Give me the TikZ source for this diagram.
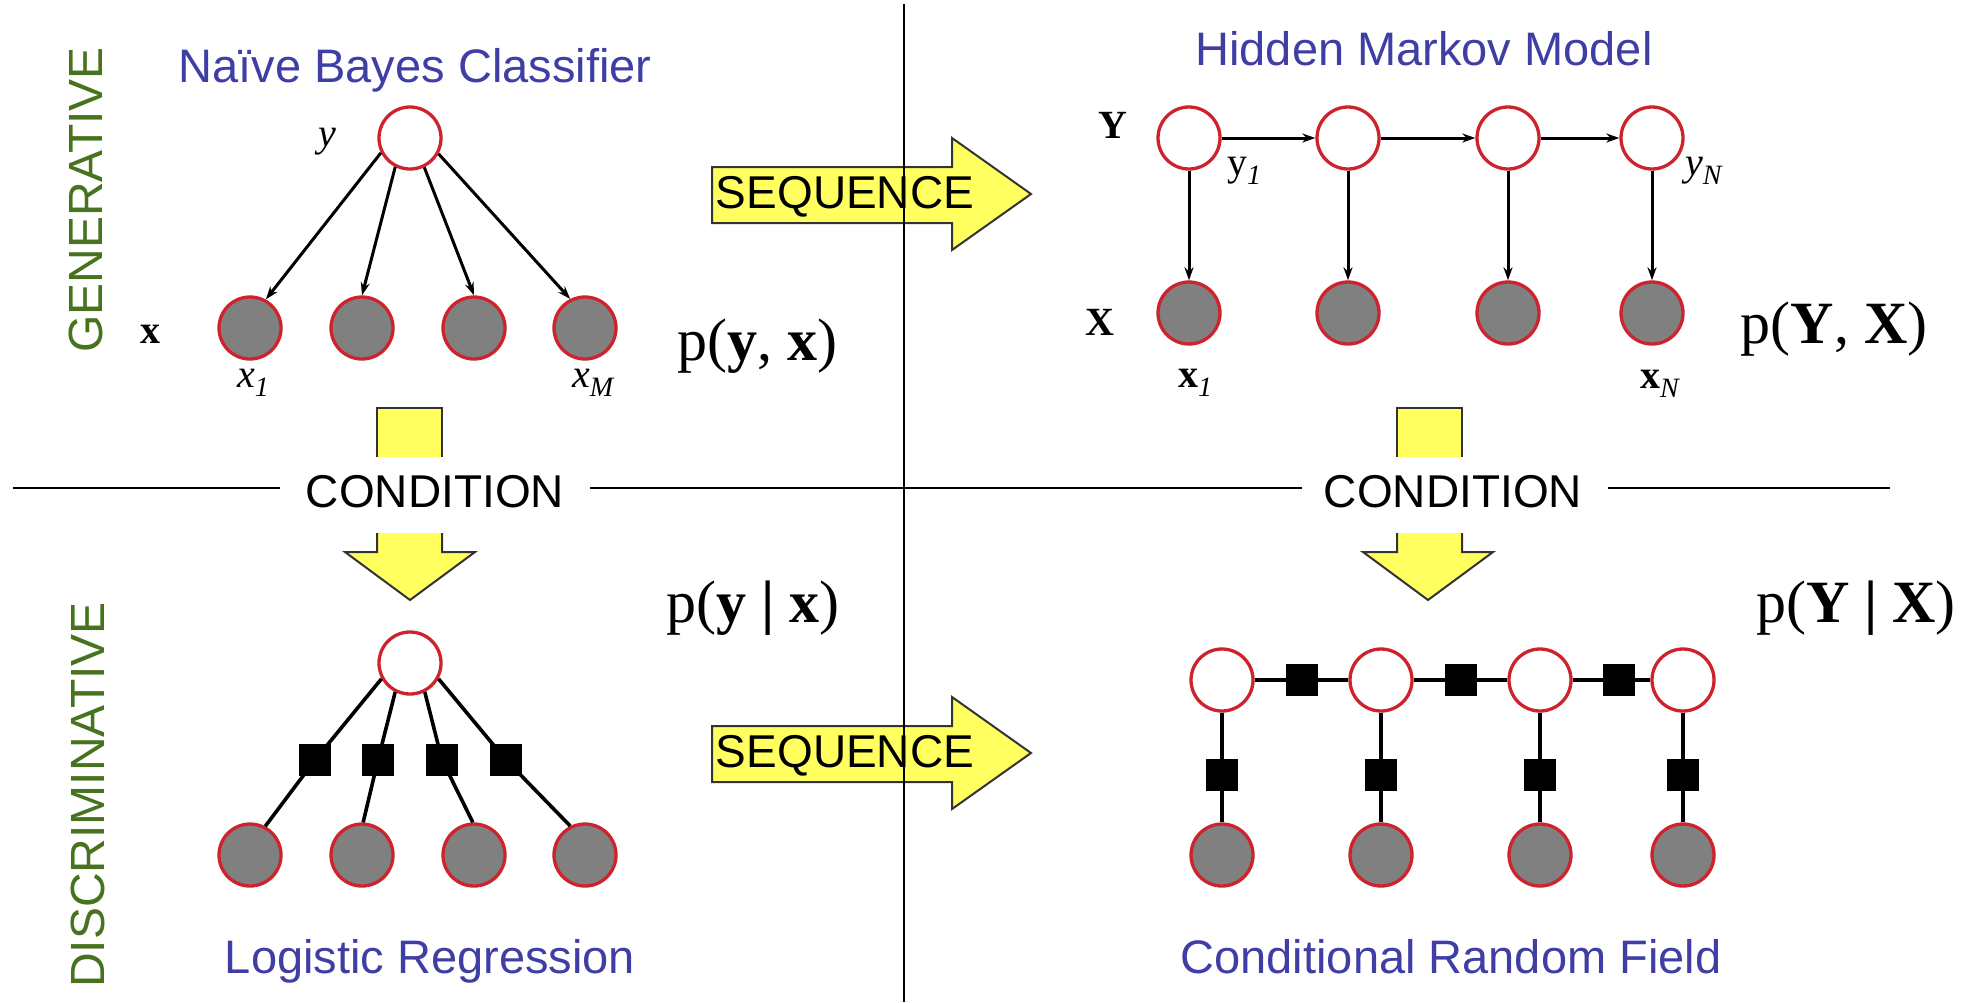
\documentclass[tikz,border=0pt]{standalone}
\usepackage{fontspec}
\setmainfont{Liberation Serif}
\setsansfont{Liberation Sans}
\usetikzlibrary{arrows.meta}
\definecolor{nodered}{RGB}{205,35,45}
\definecolor{nodegray}{RGB}{128,128,128}
\definecolor{titleblue}{RGB}{62,62,165}
\definecolor{labelgreen}{RGB}{72,115,30}
\definecolor{arrowyellow}{RGB}{255,255,95}
\begin{document}
\begin{tikzpicture}[x=1pt,y=-1pt,
  open/.style={circle,draw=nodered,line width=3.3pt,fill=white,minimum size=62pt,inner sep=0pt},
  obs/.style={circle,draw=nodered,line width=3.3pt,fill=nodegray,minimum size=62pt,inner sep=0pt},
  fac/.style={rectangle,fill=black,minimum size=32pt,inner sep=0pt},
  link/.style={line width=3.6pt,black},
  dir/.style={line width=3pt,-{Stealth[length=13pt,width=9pt]}},
  title/.style={font=\sffamily\fontsize{47}{50}\selectfont,text=titleblue,anchor=base},
  side/.style={font=\sffamily\fontsize{48}{50}\selectfont,text=labelgreen,rotate=90},
  bigword/.style={font=\sffamily\fontsize{46}{50}\selectfont,anchor=base,inner sep=0pt},
  prob/.style={font=\fontsize{60}{64}\selectfont,anchor=base,inner sep=0pt},
  var/.style={font=\fontsize{40}{42}\selectfont,anchor=base,inner sep=0pt},
  varw/.style={font=\fontsize{40}{42}\selectfont,anchor=base west,inner sep=0pt},
  yarrow/.style={fill=arrowyellow,draw=black!80,line width=2pt,line join=miter},
  yfill/.style={fill=arrowyellow},
  yline/.style={draw=black!80,line width=2pt,line join=miter},
  sep/.style={line width=2pt,black}
]
\fill[white] (0,0) rectangle (1975,1002);
\useasboundingbox (0,0) rectangle (1975,1002);

% ---------- side labels ----------
\node[side] (gen) at (86,200) {GENERATIVE};
\node[side] (dis) at (88,795) {DISCRIMINATIVE};

% ---------- titles ----------
\node[title] (tnb) at (415,82) {Naïve Bayes Classifier};
\node[title] (thmm) at (1424,65) {Hidden Markov Model};
\node[title] (tlr) at (430,973) {Logistic Regression};
\node[title] (tcrf) at (1451,973) {Conditional Random Field};

% ---------- arrows: SEQUENCE ----------
\draw[yarrow] (712,167) -- (952,167) -- (952,138) -- (1031,194) -- (952,250) -- (952,223) -- (712,223) -- cycle;
\node[bigword] (seq1) at (845,208) {SEQUENCE};
\draw[yarrow] (712,726) -- (952,726) -- (952,697) -- (1031,753) -- (952,809) -- (952,782) -- (712,782) -- cycle;
\node[bigword] (seq2) at (845,767) {SEQUENCE};

% ---------- arrows: CONDITION ----------
\fill[yfill] (377,408) rectangle (442,457);
\draw[yline] (377,457) -- (377,408) -- (442,408) -- (442,457);
\fill[yfill] (377,533) -- (442,533) -- (442,552) -- (475,552) -- (410,600) -- (345,552) -- (377,552) -- cycle;
\draw[yline] (377,533) -- (377,552) -- (345,552) -- (410,600) -- (475,552) -- (442,552) -- (442,533);
\fill[yfill] (1397,408) rectangle (1462,457);
\draw[yline] (1397,457) -- (1397,408) -- (1462,408) -- (1462,457);
\fill[yfill] (1397,533) -- (1462,533) -- (1462,552) -- (1493,552) -- (1428,600) -- (1363,552) -- (1397,552) -- cycle;
\draw[yline] (1397,533) -- (1397,552) -- (1363,552) -- (1428,600) -- (1493,552) -- (1462,552) -- (1462,533);
\node[bigword] (cond1) at (435,507) {CONDITION};
\node[bigword] (cond2) at (1453,507) {CONDITION};

% ---------- separators ----------
\draw[sep] (904,4) -- (904,1002);
\draw[sep] (13,488) -- (280,488);
\draw[sep] (590,488) -- (1302,488);
\draw[sep] (1608,488) -- (1890,488);

% ---------- Naive Bayes ----------
\node[open] (nby) at (410,138) {};
\node[obs] (nbx1) at (250,328) {};
\node[obs] (nbx2) at (362,328) {};
\node[obs] (nbx3) at (474,328) {};
\node[obs] (nbx4) at (585,328) {};
\draw[dir] (nby.207) -- (nbx1.61);
\draw[dir] (nby.243) -- (nbx2.90);
\draw[dir] (nby.296) -- (nbx3.90);
\draw[dir] (nby.331) -- (nbx4.117);
\node[var] (lby) at (327,146) {\itshape y};
\node[var] (lbx) at (150,343) {\bfseries x};
\node[varw] (lbx1) at (237,387) {\itshape x\textsubscript{1}};
\node[varw] (lbxm) at (572,387) {\itshape x\textsubscript{M}};
\node[prob] (pyx) at (757,360) {p(\textbf{y}, \textbf{x})};

% ---------- HMM ----------
\node[open] (hy1) at (1189,138) {};
\node[open] (hy2) at (1348,138) {};
\node[open] (hy3) at (1508,138) {};
\node[open] (hy4) at (1652,138) {};
\node[obs] (hx1) at (1189,313) {};
\node[obs] (hx2) at (1348,313) {};
\node[obs] (hx3) at (1508,313) {};
\node[obs] (hx4) at (1652,313) {};
\draw[dir] (hy1) -- (hy2);
\draw[dir] (hy2) -- (hy3);
\draw[dir] (hy3) -- (hy4);
\draw[dir] (hy1) -- (hx1);
\draw[dir] (hy2) -- (hx2);
\draw[dir] (hy3) -- (hx3);
\draw[dir] (hy4) -- (hx4);
\node[var] (lhY) at (1113,138) {\bfseries Y};
\node[var] (lhX) at (1100,335) {\bfseries X};
\node[varw] (lhy1) at (1227,175) {y\textsubscript{\itshape 1}};
\node[varw] (lhyn) at (1685,175) {\itshape y\textsubscript{N}};
\node[varw] (lhx1) at (1178,387) {\textbf{x}\textsubscript{\itshape 1}};
\node[varw] (lhxn) at (1640,388) {\textbf{x}\textsubscript{\itshape N}};
\node[prob] (pYX) at (1834,343) {p(\textbf{Y}, \textbf{X})};

% ---------- Logistic Regression ----------
\node[open] (lry) at (410,663) {};
\node[obs] (lrx1) at (250,855) {};
\node[obs] (lrx2) at (362,855) {};
\node[obs] (lrx3) at (474,855) {};
\node[obs] (lrx4) at (585,855) {};
\node[fac] (lrf1) at (315,760) {};
\node[fac] (lrf2) at (378,760) {};
\node[fac] (lrf3) at (442,760) {};
\node[fac] (lrf4) at (506,760) {};
\draw[link] (lry.209) -- (lrf1.center) -- (lrx1.62);
\draw[link] (lry.243) -- (lrf2.center) -- (lrx2.88);
\draw[link] (lry.297) -- (lrf3.center) -- (lrx3.92);
\draw[link] (lry.331) -- (lrf4.center) -- (lrx4.117);
\node[prob] (pygx) at (753,622) {p(\textbf{y | x})};

% ---------- CRF ----------
\node[open] (cy1) at (1222,680) {};
\node[open] (cy2) at (1381,680) {};
\node[open] (cy3) at (1540,680) {};
\node[open] (cy4) at (1683,680) {};
\node[obs] (cx1) at (1222,855) {};
\node[obs] (cx2) at (1381,855) {};
\node[obs] (cx3) at (1540,855) {};
\node[obs] (cx4) at (1683,855) {};
\node[fac] (ch1) at (1302,680) {};
\node[fac] (ch2) at (1461,680) {};
\node[fac] (ch3) at (1619,680) {};
\node[fac] (cv1) at (1222,775) {};
\node[fac] (cv2) at (1381,775) {};
\node[fac] (cv3) at (1540,775) {};
\node[fac] (cv4) at (1683,775) {};
\draw[link] (cy1) -- (ch1) -- (cy2) -- (ch2) -- (cy3) -- (ch3) -- (cy4);
\draw[link] (cy1) -- (cv1) -- (cx1);
\draw[link] (cy2) -- (cv2) -- (cx2);
\draw[link] (cy3) -- (cv3) -- (cx3);
\draw[link] (cy4) -- (cv4) -- (cx4);
\node[prob] (pYgX) at (1856,622) {p(\textbf{Y | X})};
\end{tikzpicture}
\end{document}
